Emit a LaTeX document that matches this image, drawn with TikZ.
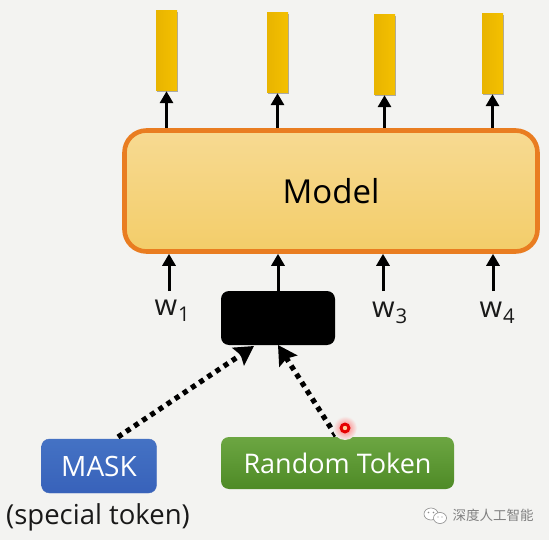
\documentclass[tikz,border=0pt]{standalone}
\usepackage{fontspec}
\setmainfont{Open Sans}
\newfontfamily\cjk{Noto Sans CJK SC}
\usetikzlibrary{arrows.meta,shadows}
\definecolor{bgc}{HTML}{F3F3F1}
\tikzset{
  x=1pt,y=-1pt,
  barbox/.style={minimum width=21pt,minimum height=80pt,inner sep=0pt,left color=barl,right color=barr,
     general shadow={shadow xshift=.8pt,shadow yshift=-.8pt,opacity=.3,fill=black}},
  up/.style={line width=3pt,-{Triangle[length=12pt,width=13pt]}},
  dots/.style={line width=5.2pt,dash pattern=on 5pt off 4.8pt,-{Stealth[length=19pt,width=21pt,inset=3pt]}},
  wlab/.style={inner sep=0pt,font=\fontsize{29}{32}\selectfont,text=black!90},
  btn/.style={rounded corners=8pt,inner sep=0pt,text=white,font=\fontsize{27}{30}\selectfont},
}
\definecolor{barl}{HTML}{E8B400}
\definecolor{barr}{HTML}{F4C000}
\begin{document}
\begin{tikzpicture}
\useasboundingbox (0,0) rectangle (549,540);
\fill[bgc] (0,0) rectangle (549,540);
% output bars
\node[barbox] (o1) at (166.5,51) {};
\node[barbox] (o2) at (277.5,53) {};
\node[barbox] (o3) at (384.5,55) {};
\node[barbox] (o4) at (492.5,54) {};
% model
\node[draw={rgb,255:red,233;green,125;blue,33},line width=4.6pt,rounded corners=22pt,
  minimum width=413pt,minimum height=121pt,inner sep=0pt,
  top color={rgb,255:red,247;green,218;blue,146},bottom color={rgb,255:red,243;green,205;blue,105},
  font=\fontsize{33}{38}\selectfont] (model) at (331,191) {Model};
% inputs
\node[wlab] (w1) at (172.5,311) {w\textsubscript{\kern1pt 1}};
\node[wlab] (w3) at (390,313) {w\textsubscript{\kern1pt 3}};
\node[wlab] (w4) at (497.5,313) {w\textsubscript{\kern1pt 4}};
\node[fill=black,rounded corners=8pt,minimum width=114pt,minimum height=54pt,inner sep=0pt] (blk) at (278,318) {};
\node[btn,minimum width=115pt,minimum height=54pt,font=\fontsize{28}{30}\selectfont,
  top color={rgb,255:red,68;green,114;blue,196},bottom color={rgb,255:red,56;green,98;blue,186},
  draw={rgb,255:red,70;green,110;blue,190}] (mask) at (99,466) {MASK};
\node[btn,minimum width=233pt,minimum height=52pt,
  top color={rgb,255:red,108;green,166;blue,66},bottom color={rgb,255:red,78;green,138;blue,38}] (rnd) at (337.5,463) {Random Token};
\node[inner sep=0pt,font=\fontsize{27.5}{30}\selectfont,text=black!90] (spec) at (98,517) {(special token)};
% output arrows
\draw[up] (model.north -| o1.south) -- (o1.south);
\draw[up] (model.north -| o2.south) -- (o2.south);
\draw[up] (model.north -| o3.south) -- (o3.south);
\draw[up] (model.north -| o4.south) -- (o4.south);
% input arrows
\coordinate (a1) at (169,291);
\coordinate (a3) at (383,291);
\coordinate (a4) at (493,291);
\draw[up] (a1) -- (model.south -| a1);
\draw[up] (a3) -- (model.south -| a3);
\draw[up] (a4) -- (model.south -| a4);
\draw[up] (blk.north) -- (model.south -| blk.north);
% dotted
\coordinate (m0) at (118,437);
\coordinate (m1) at (254,346);
\coordinate (r0) at (336,436);
\coordinate (r1) at (278,345);
\draw[dots] (m0) -- (m1);
\draw[dots] (r0) -- (r1);
% pointer
\shade[inner color=red!55,outer color=bgc] (345,428) circle (12);
\fill[red!90!black] (345,428) circle (5.5);
\fill[orange!40!white] (345,428) circle (2.2);
% watermark
\fill[white,draw=black!45,line width=.6pt] (431,514) ellipse [x radius=7,y radius=6];
\fill[white,draw=black!45,line width=.6pt] (440,518) ellipse [x radius=6.5,y radius=5.5];
\fill[black!45] (428.5,512.5) circle (.8) (433.5,512.5) circle (.8) (438,517) circle (.7) (442,517) circle (.7);
\node[inner sep=0pt,text=black!50,font=\cjk\fontsize{13.5}{16}\selectfont] (wm) at (493,515.5) {深度人工智能};
\end{tikzpicture}
\end{document}
